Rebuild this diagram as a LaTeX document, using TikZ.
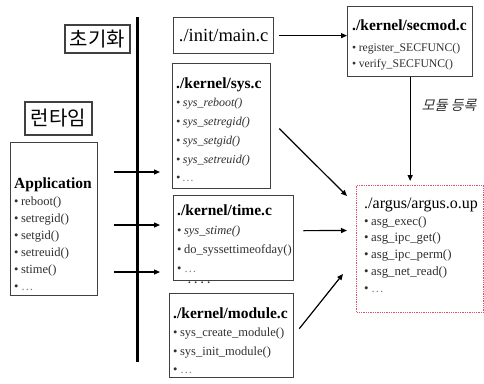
\documentclass[tikz,border=0pt]{standalone}
\usepackage{fontspec}
\setmainfont{Liberation Serif}
\newfontfamily\krfont{Noto Sans CJK KR}
\newfontfamily\krslant[FakeSlant=0.25]{Noto Sans CJK KR}
\usetikzlibrary{arrows.meta}
\definecolor{boxline}{HTML}{404040}
\definecolor{itemgray}{HTML}{303030}
\definecolor{argusred}{HTML}{E0506A}
% box title: bold, with a fixed-height strut so the first baseline is predictable
\newcommand\ttl[1]{\rule{0pt}{15pt}{\normalfont\fontsize{15.5}{18}\selectfont\bfseries\color{black}#1}}
\newcommand\itm[1]{\textbullet\hspace{2.5pt}#1}
\newcommand\more{\textbullet\hspace{2.5pt}{\color{gray}\ldots}}
\begin{document}
\begin{tikzpicture}[x=1pt,y=-1pt,
  box/.style={draw=boxline, line width=1.3pt, inner sep=0pt, anchor=north west},
  body/.style={anchor=north west, inner sep=0pt, align=left, text=itemgray},
  arr/.style={-{Triangle[length=6pt,width=5pt]}, line width=1.2pt},
  krbox/.style={draw=boxline, line width=1.1pt, inner sep=0pt,
    font=\krfont\fontsize{20}{24}\selectfont}]
\useasboundingbox[fill=white] (0,0) rectangle (484,383);

% phase labels and the divider between them
\node[krbox, minimum width=65pt, minimum height=28pt] (init) at (97.5,39) {초기화};
\node[krbox, minimum width=67pt, minimum height=33pt] (rt) at (58.5,118.5) {런타임};
\draw[line width=3.5pt] (137.5,17) coordinate (divtop) -- (137.5,362) coordinate (divbot);

% init entry point
\node[box, minimum width=100pt, minimum height=36pt, font=\fontsize{18.5}{20}\selectfont]
  (main) at (173,17) {./init/main.c};

% security module
\node[box, minimum width=125pt, minimum height=70pt] (secmod) at (347,6) {};
\node[body, font=\fontsize{11.7}{16}\selectfont] (secmodT) at (352,15)
  {\ttl{./kernel/secmod.c}\\[5pt] \itm{register\_SECFUNC()}\\ \itm{verify\_SECFUNC()}};

% kernel sources
\node[box, minimum width=98pt, minimum height=125pt] (sys) at (172,63) {};
\node[body, font=\itshape\fontsize{12}{18.75}\selectfont] (sysT) at (176,73)
  {\ttl{./kernel/sys.c}\\ \itm{sys\_reboot()}\\ \itm{sys\_setregid()}\\
   \itm{sys\_setgid()}\\ \itm{sys\_setreuid()}\\ \more};

\node[box, minimum width=120pt, minimum height=85pt] (time) at (173,195) {};
\node[body, font=\fontsize{12.5}{19}\selectfont] (timeT) at (177,200)
  {\ttl{./kernel/time.c}\\ \itm{\textit{sys\_stime()}}\\ \itm{do\_syssettimeofday()}\\ \more};

\node[font=\bfseries\fontsize{11}{11}\selectfont, text=itemgray, inner sep=0pt]
  (gap) at (199,283) {.\,\,.\,\,.\,\,.};

\node[box, minimum width=124pt, minimum height=84pt] (module) at (169,293) {};
\node[body, font=\fontsize{12.5}{18.5}\selectfont] (moduleT) at (173,303)
  {\ttl{./kernel/module.c}\\ \itm{sys\_create\_module()}\\ \itm{sys\_init\_module()}\\ \more};

% user-space application
\node[box, minimum width=87pt, minimum height=153pt] (app) at (10,142) {};
\node[body, font=\fontsize{12.5}{17}\selectfont] (appT) at (14,173)
  {\ttl{Application}\\ \itm{reboot()}\\ \itm{setregid()}\\ \itm{setgid()}\\
   \itm{setreuid()}\\ \itm{stime()}\\ \more};

% loadable module
\node[box, draw=argusred, densely dotted, line width=1pt, minimum width=127pt,
  minimum height=127pt] (argus) at (356,185) {};
\node[body, font=\fontsize{12.8}{16.8}\selectfont] (argusT) at (364,193)
  {\rule{0pt}{15pt}{\fontsize{16}{18}\selectfont\color{black}./argus/argus.o.up}\\
   \itm{asg\_exec()}\\ \itm{asg\_ipc\_get()}\\ \itm{asg\_ipc\_perm()}\\
   \itm{asg\_net\_read()}\\ \more};

\node[font=\krslant\fontsize{14}{16}\selectfont, text=itemgray] (reg) at (449,105) {모듈 등록};

% connectors
\draw[arr, shorten <=5pt] (main.east) -- (main.east -| secmod.west);
\draw[arr, shorten >=4pt] (secmod.south) -- (secmod.south |- argus.north);
\draw[arr] ([shift={(8,2.5)}]sys.east) -- ([shift={(-9,11)}]argus.north west);
\draw[arr] ([shift={(9,-7.5)}]time.east) -- ([shift={(-9,-18.5)}]argus.west);
\draw[arr] ([shift={(5,-7)}]module.east) -- ([shift={(-13,-39)}]argus.south west);

\coordinate (a1) at (114,172);
\coordinate (a2) at (114,225);
\coordinate (a3) at (114,272);
\draw[arr, shorten >=12pt] (a1) -- (a1 -| sys.west);
\draw[arr, shorten >=13pt] (a2) -- (a2 -| time.west);
\draw[arr, shorten >=13pt] (a3) -- (a3 -| time.west);
\end{tikzpicture}
\end{document}
